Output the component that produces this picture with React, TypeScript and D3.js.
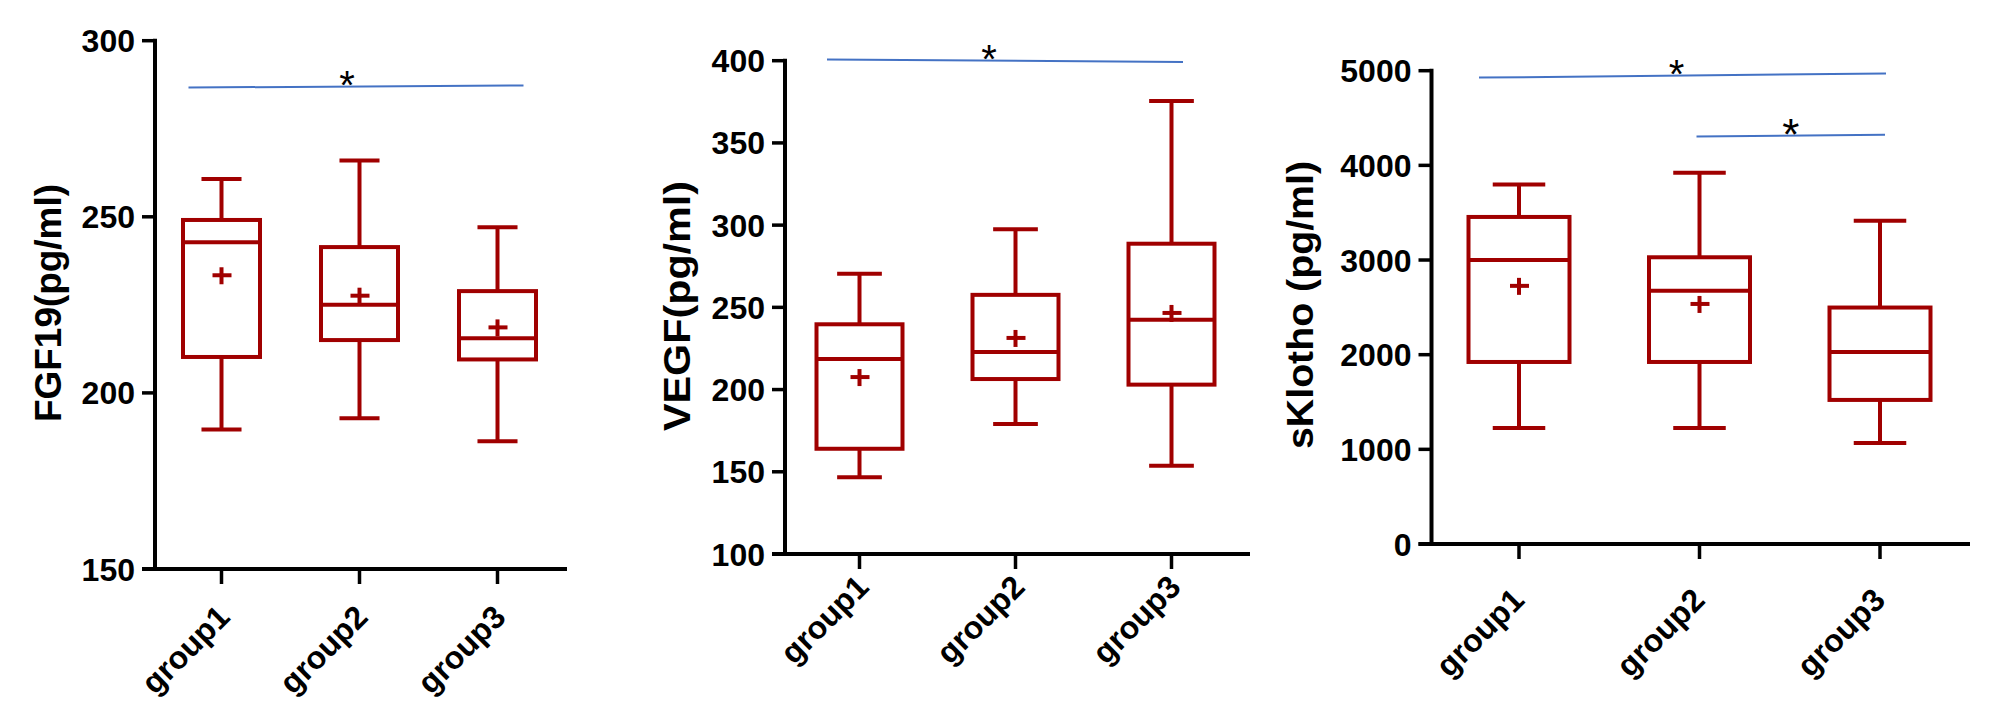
import React from "react";
import * as d3 from "d3";

// ---------- DATA ----------
const groups = ["group1", "group2", "group3"];

// FGF19 (pg/ml)
const fgfLow = [189.6, 192.8, 186.3];
const fgfQ1 = [210.2, 215.0, 209.5];
const fgfMedian = [242.8, 225.0, 215.5];
const fgfQ3 = [249.1, 241.4, 228.9];
const fgfHigh = [260.7, 266.0, 247.0];
const fgfMean = [233.4, 227.6, 218.6];
const fgfTicks = [150, 200, 250, 300];

// VEGF (pg/ml)
const vegfLow = [146.6, 179.1, 153.7];
const vegfQ1 = [164.0, 206.4, 203.0];
const vegfMedian = [218.6, 222.9, 242.4];
const vegfQ3 = [239.7, 257.6, 288.7];
const vegfHigh = [270.5, 297.5, 375.5];
const vegfMean = [207.6, 231.4, 246.6];
const vegfTicks = [100, 150, 200, 250, 300, 350, 400];

// sKlotho (pg/ml)
const kloLow = [1225, 1225, 1067];
const kloQ1 = [1923, 1923, 1522];
const kloMedian = [3000, 2675, 2029];
const kloQ3 = [3455, 3029, 2498];
const kloHigh = [3799, 3923, 3416];
const kloMean: (number | null)[] = [2727, 2536, null];
const kloTicks = [0, 1000, 2000, 3000, 4000, 5000];

// significance brackets: from group, to group, value at left end, value at right end
const fgfSig = [{ from: "group1", to: "group3", v1: 286.7, v2: 287.3, label: "*" }];
const vegfSig = [{ from: "group1", to: "group3", v1: 400.8, v2: 399.2, label: "*" }];
const kloSig = [
  { from: "group1", to: "group3", v1: 4927, v2: 4970, label: "*" },
  { from: "group2", to: "group3", v1: 4305, v2: 4324, label: "*" },
];

// ---------- LAYOUT ----------
const RED = "#a00000";
const BLUE = "#4472c4";
const FONT = "'Liberation Sans', Arial, Helvetica, sans-serif";

type Sig = { from: string; to: string; v1: number; v2: number; label: string };
type PanelCfg = {
  title: string;
  low: number[]; q1: number[]; median: number[]; q3: number[]; high: number[];
  mean: (number | null)[];
  ticks: number[];
  domain: [number, number];
  sig: Sig[];
  axisX: number; yBottom: number; yTop: number;
  xFirst: number; xLast: number; xEnd: number; boxW: number;
  titleX: number; titleY: number; titleLen: number;
  labelDx: number; labelDy: number;
  sigExt: [number, number][]; starDx: number[]; starSize: number[];
};

const panels: PanelCfg[] = [
  {
    title: "FGF19(pg/ml)",
    low: fgfLow, q1: fgfQ1, median: fgfMedian, q3: fgfQ3, high: fgfHigh, mean: fgfMean,
    ticks: fgfTicks, domain: [150, 300], sig: fgfSig,
    axisX: 155, yBottom: 569, yTop: 40.7,
    xFirst: 221.5, xLast: 497.5, xEnd: 567, boxW: 77,
    titleX: 61, titleY: 303, titleLen: 238,
    labelDx: 10, labelDy: 50,
    sigExt: [[-33, 26]], starDx: [-9], starSize: [40],
  },
  {
    title: "VEGF(pg/ml)",
    low: vegfLow, q1: vegfQ1, median: vegfMedian, q3: vegfQ3, high: vegfHigh, mean: vegfMean,
    ticks: vegfTicks, domain: [100, 400], sig: vegfSig,
    axisX: 785, yBottom: 554, yTop: 60.7,
    xFirst: 859.5, xLast: 1171.5, xEnd: 1250, boxW: 86,
    titleX: 690, titleY: 306, titleLen: 250,
    labelDx: 11, labelDy: 35,
    sigExt: [[-32.5, 11.5]], starDx: [-16], starSize: [40],
  },
  {
    title: "sKlotho (pg/ml)",
    low: kloLow, q1: kloQ1, median: kloMedian, q3: kloQ3, high: kloHigh, mean: kloMean,
    ticks: kloTicks, domain: [0, 5000], sig: kloSig,
    axisX: 1431.5, yBottom: 544, yTop: 70.7,
    xFirst: 1519, xLast: 1880, xEnd: 1970, boxW: 101,
    titleX: 1313, titleY: 305, titleLen: 288,
    labelDx: 7, labelDy: 58,
    sigExt: [[-40, 6], [-3, 5]], starDx: [-6, 0], starSize: [40, 44],
  },
];

function Panel({ p }: { p: PanelCfg }) {
  const y = d3.scaleLinear().domain(p.domain).range([p.yBottom, p.yTop]);
  const x = d3.scalePoint<string>().domain(groups).range([p.xFirst, p.xLast]);
  const tickLen = 13;
  const cap = p.boxW * 0.52;
  return (
    <g>
      {/* axes */}
      <line x1={p.axisX} x2={p.axisX} y1={p.yTop - 2} y2={p.yBottom + 2} stroke="#000" strokeWidth={4} />
      <line x1={p.axisX - tickLen} x2={p.xEnd} y1={p.yBottom} y2={p.yBottom} stroke="#000" strokeWidth={4} />
      {p.ticks.map((t) => (
        <g key={t}>
          <line x1={p.axisX - tickLen} x2={p.axisX} y1={y(t)} y2={y(t)} stroke="#000" strokeWidth={3.5} />
          <text x={p.axisX - tickLen - 7} y={y(t)} dy="0.36em" textAnchor="end" fontFamily={FONT}
            fontWeight="bold" fontSize={32} fill="#000">{t}</text>
        </g>
      ))}
      {groups.map((g) => (
        <g key={g}>
          <line x1={x(g)} x2={x(g)} y1={p.yBottom} y2={p.yBottom + 15} stroke="#000" strokeWidth={3.5} />
          <text transform={`translate(${x(g)! + p.labelDx},${p.yBottom + p.labelDy}) rotate(-45)`}
            textAnchor="end" fontFamily={FONT} fontWeight="bold" fontSize={32} fill="#000">{g}</text>
        </g>
      ))}
      <text transform={`translate(${p.titleX},${p.titleY}) rotate(-90)`} textAnchor="middle"
        fontFamily={FONT} fontWeight="bold" fontSize={36} fill="#000"
        textLength={p.titleLen} lengthAdjust="spacingAndGlyphs">{p.title}</text>

      {/* boxes */}
      {groups.map((g, i) => {
        const cx = x(g)!;
        const half = p.boxW / 2;
        return (
          <g key={g} stroke={RED} strokeWidth={4} fill="none">
            <line x1={cx} x2={cx} y1={y(p.high[i])} y2={y(p.q3[i])} />
            <line x1={cx} x2={cx} y1={y(p.q1[i])} y2={y(p.low[i])} />
            <line x1={cx - cap / 2} x2={cx + cap / 2} y1={y(p.high[i])} y2={y(p.high[i])} />
            <line x1={cx - cap / 2} x2={cx + cap / 2} y1={y(p.low[i])} y2={y(p.low[i])} />
            <rect x={cx - half} y={y(p.q3[i])} width={p.boxW} height={y(p.q1[i]) - y(p.q3[i])} />
            <line x1={cx - half} x2={cx + half} y1={y(p.median[i])} y2={y(p.median[i])} />
            {p.mean[i] != null && (
              <g>
                <line x1={cx - 9} x2={cx + 10} y1={y(p.mean[i]!)} y2={y(p.mean[i]!)} />
                <line x1={cx} x2={cx} y1={y(p.mean[i]!) - 8} y2={y(p.mean[i]!) + 9} />
              </g>
            )}
          </g>
        );
      })}

      {/* significance */}
      {p.sig.map((s, i) => {
        const x1 = x(s.from)! + p.sigExt[i][0];
        const x2 = x(s.to)! + p.sigExt[i][1];
        const y1 = y(s.v1);
        const y2 = y(s.v2);
        const mx = (x1 + x2) / 2 + p.starDx[i];
        const my = (y1 + y2) / 2;
        const fs = p.starSize[i];
        return (
          <g key={i}>
            <line x1={x1} x2={x2} y1={y1} y2={y2} stroke={BLUE} strokeWidth={2} />
            <text x={mx} y={my - 11 + fs * 0.58} textAnchor="middle" fontFamily={FONT}
              fontSize={fs} fill="#000">{s.label}</text>
          </g>
        );
      })}
    </g>
  );
}

export default function App() {
  return (
    <svg width={2008} height={711} style={{ position: "absolute", left: 0, top: 0, background: "#fff" }}>
      <rect width={2008} height={711} fill="#fff" />
      {panels.map((p, i) => (
        <Panel key={i} p={p} />
      ))}
    </svg>
  );
}
